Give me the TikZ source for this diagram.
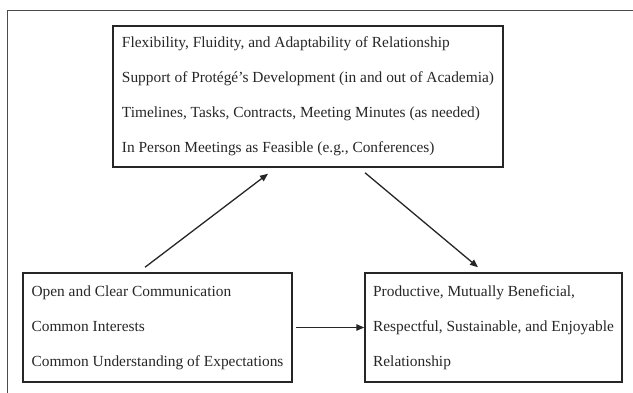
\documentclass[tikz,border=0pt]{standalone}
\usepackage{fontspec}
\setmainfont{Liberation Serif}
\usetikzlibrary{arrows.meta}
\begin{document}
\begin{tikzpicture}[x=1pt,y=-1pt,
  box/.style={draw=black!85, line width=1.5pt, rectangle, inner sep=0pt, align=left,
    text=black!85, font=\fontsize{15.4}{35}\selectfont},
  arr/.style={draw=black!85, line width=1.3pt, -{Triangle[length=8pt,width=6.5pt]}},
  frame/.style={draw=black!70, line width=1.5pt}]
\useasboundingbox (0,0) rectangle (633,393);
\draw[frame] (7.5,393) -- (7.5,10.5) -- (633,10.5);
\node[box, minimum width=390pt, minimum height=141pt] (top) at (308,96.5)
  {Flexibility, Fluidity, and Adaptability of Relationship\\
   Support of Protégé’s Development (in and out of Academia)\\
   Timelines, Tasks, Contracts, Meeting Minutes (as needed)\\
   In Person Meetings as Feasible (e.g., Conferences)};
\node[box, minimum width=269pt, minimum height=109pt] (left) at (157.5,327.5)
  {Open and Clear Communication\\
   Common Interests\\
   Common Understanding of Expectations};
\node[box, minimum width=257pt, minimum height=109pt] (right) at (493.5,327.5)
  {Productive, Mutually Beneficial,\\
   Respectful, Sustainable, and Enjoyable\\
   Relationship};
\draw[arr] ([xshift=-12.5pt,yshift=5pt]left.north) -- ([xshift=-40pt,yshift=-6pt]top.south);
\draw[arr] ([xshift=57pt,yshift=-5pt]top.south) -- ([xshift=-15.5pt,yshift=5pt]right.north);
\draw[arr, shorten <=3pt] (left.east) -- (right.west);
\end{tikzpicture}
\end{document}
